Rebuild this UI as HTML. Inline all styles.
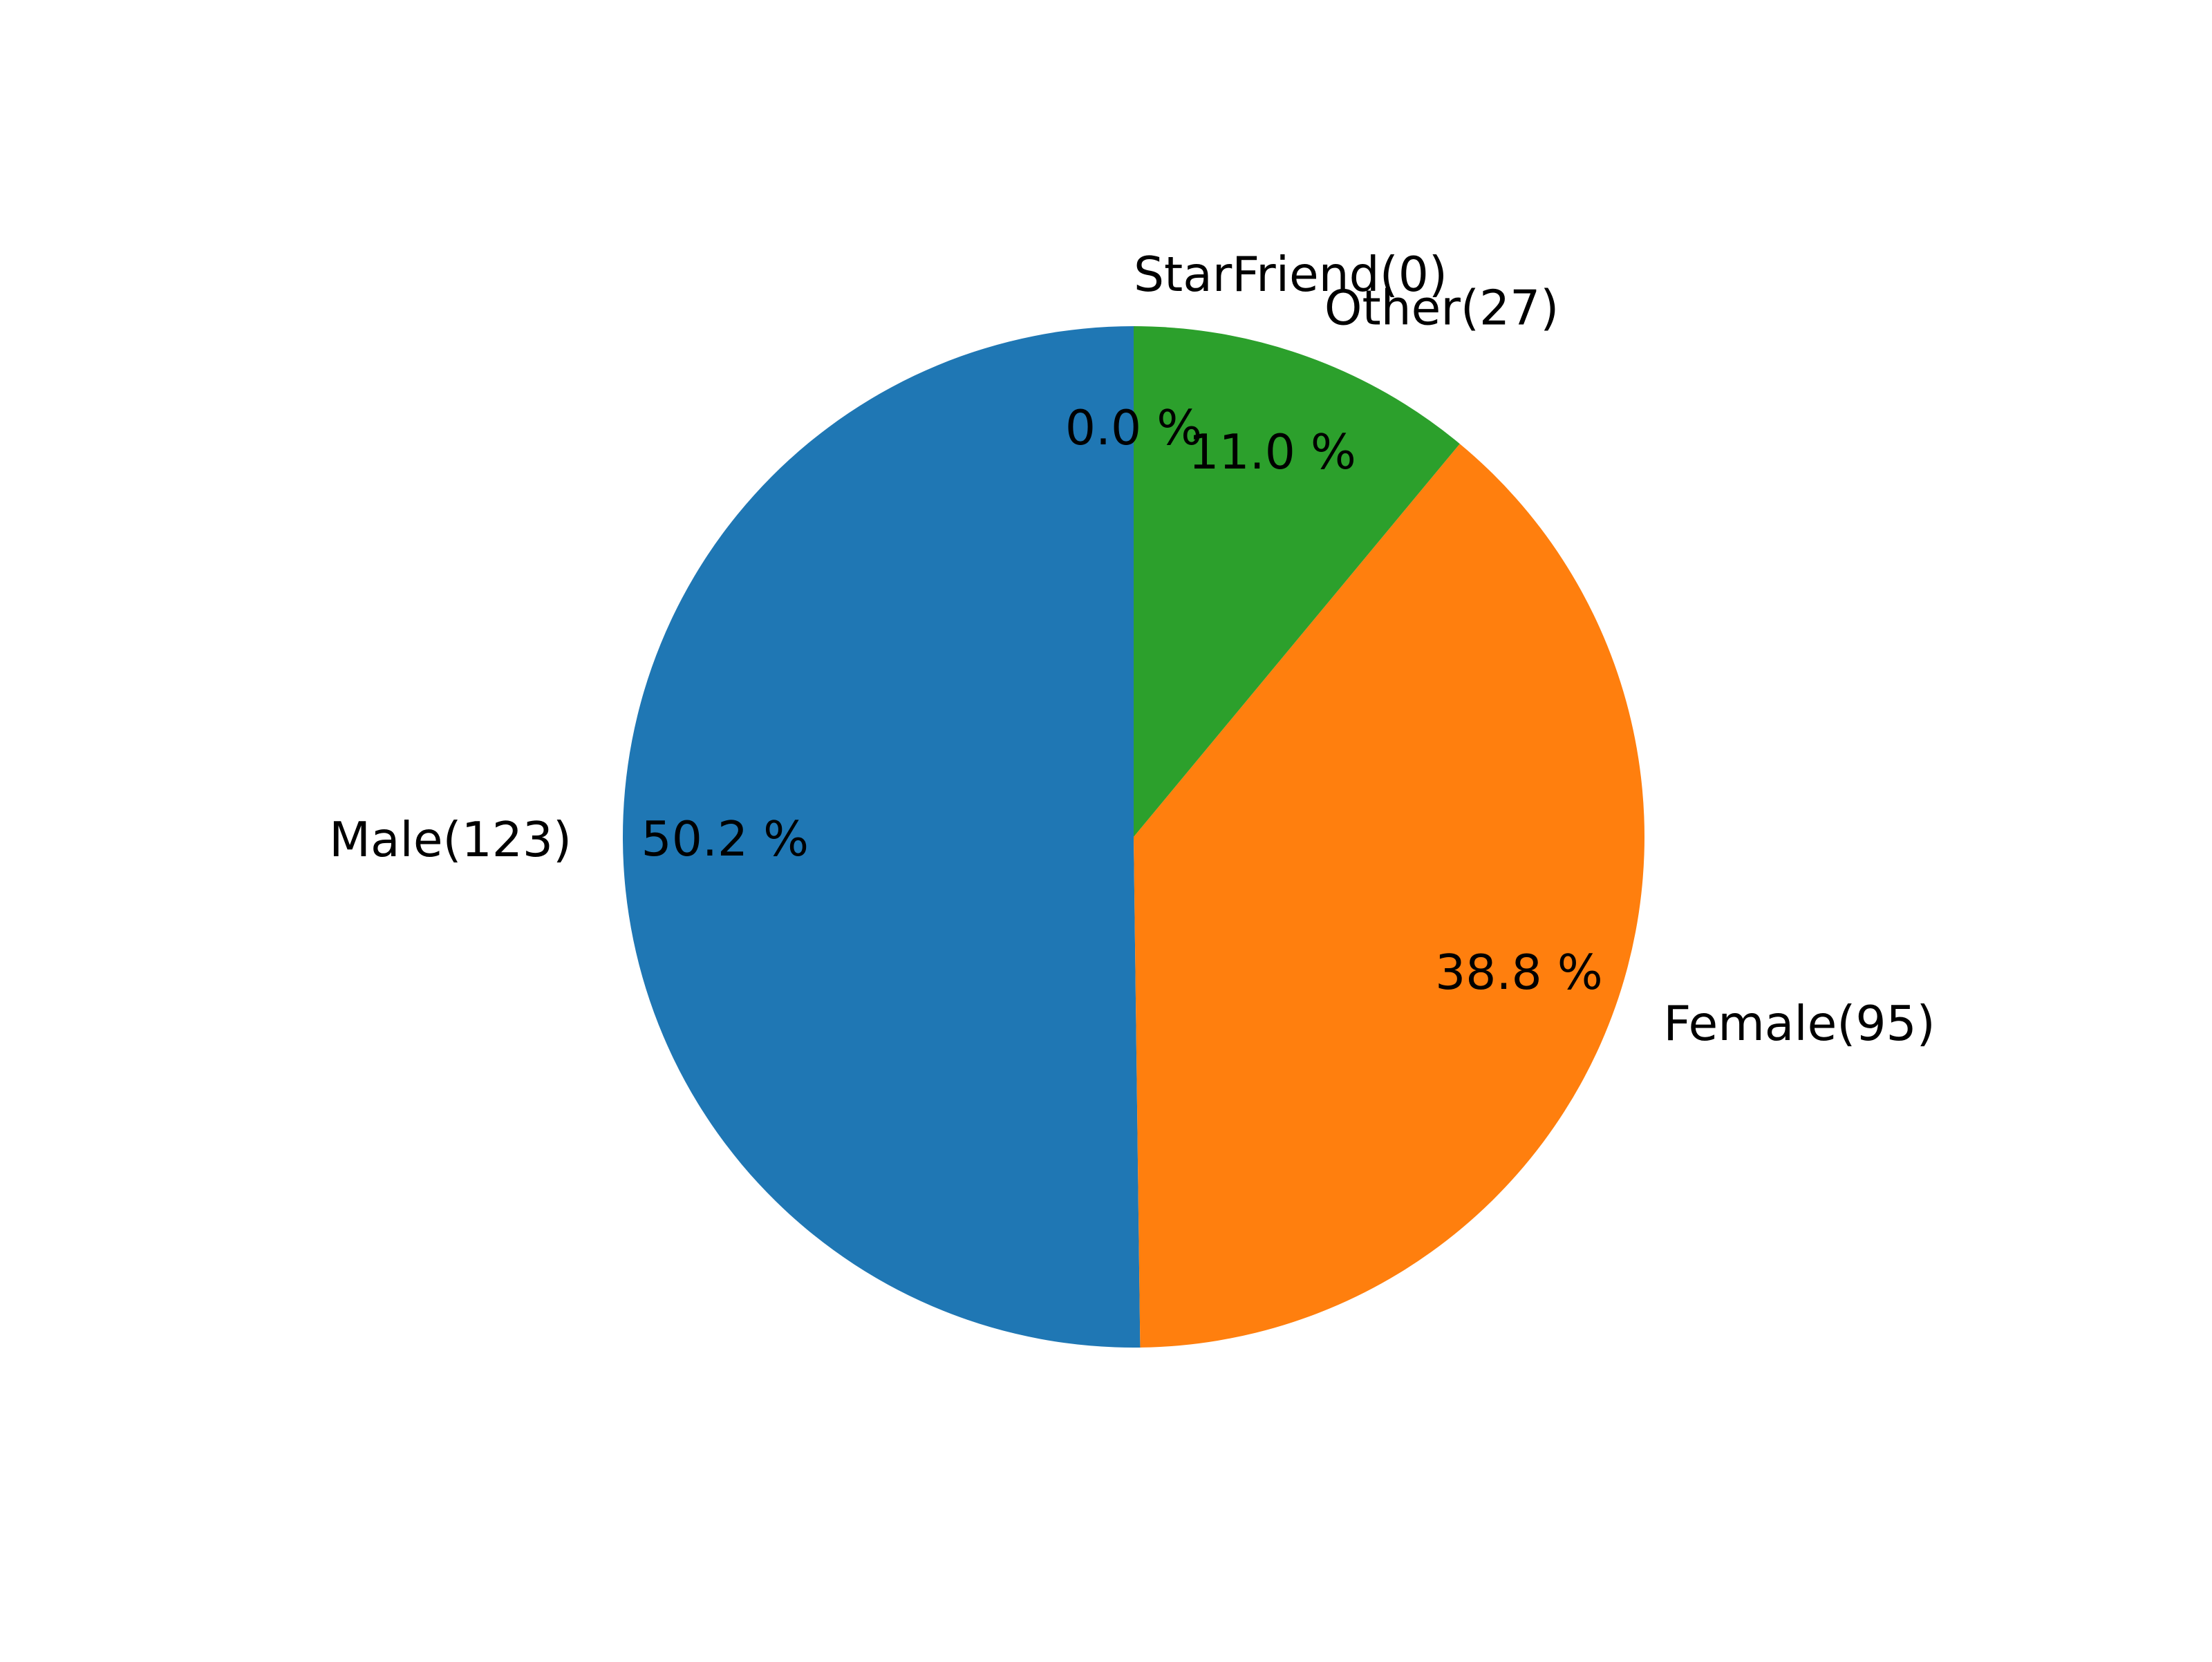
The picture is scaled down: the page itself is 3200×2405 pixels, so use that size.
<!DOCTYPE html>
<html><head><meta charset="utf-8"><style>
html,body{margin:0;padding:0;background:#fff}
svg text{font-family:"DejaVu Sans","Liberation Sans",sans-serif;font-size:69.4px;fill:#000}
</style></head><body>
<svg id="chart" width="3200" height="2400" viewBox="0 0 3200 2400" xmlns="http://www.w3.org/2000/svg">
<rect width="3200" height="2400" fill="#fff"/>
<g id="slices"></g>
<g id="labels"></g>
</svg>
<script>
const categories = ["Male", "Female", "Other", "StarFriend"];
const counts = [123, 95, 27, 0];
const colors = ["#1f77b4", "#ff7f0e", "#2ca02c", "#d62728"];

const NS = "http://www.w3.org/2000/svg";
const cx = 1640, cy = 1211, R = 739;
const total = counts.reduce((a, b) => a + b, 0);
const gS = document.getElementById("slices");
const gL = document.getElementById("labels");
function pt(deg, r) { const a = deg * Math.PI / 180; return [cx + r * Math.cos(a), cy - r * Math.sin(a)]; }
let start = 90;
counts.forEach((v, i) => {
  const frac = v / total;
  const sweep = frac * 360;
  const end = start + sweep;
  if (sweep > 0) {
    const p1 = pt(start, R), p2 = pt(end, R);
    const large = sweep > 180 ? 1 : 0;
    const path = document.createElementNS(NS, "path");
    path.setAttribute("d", `M${cx},${cy} L${p1[0]},${p1[1]} A${R},${R} 0 ${large} 0 ${p2[0]},${p2[1]} Z`);
    path.setAttribute("fill", colors[i]);
    
    
    gS.appendChild(path);
  }
  const mid = start + sweep / 2;
  const lp = pt(mid, R * 1.1);
  const xs = Math.cos(mid * Math.PI / 180);
  const lab = document.createElementNS(NS, "text");
  lab.setAttribute("x", lp[0]); lab.setAttribute("y", lp[1]);
  lab.setAttribute("text-anchor", xs < -1e-9 ? "end" : "start");
  lab.setAttribute("dominant-baseline", "central");
  lab.textContent = categories[i] + "(" + v + ")";
  
  
  gL.appendChild(lab);
  const pp = pt(mid, R * 0.8);
  const pct = document.createElementNS(NS, "text");
  pct.setAttribute("x", pp[0]); pct.setAttribute("y", pp[1]);
  pct.setAttribute("text-anchor", "middle");
  pct.setAttribute("dominant-baseline", "central");
  pct.textContent = (frac * 100).toFixed(1) + " %";
  
  
  gL.appendChild(pct);
  start = end;
});
</script>
</body></html>
